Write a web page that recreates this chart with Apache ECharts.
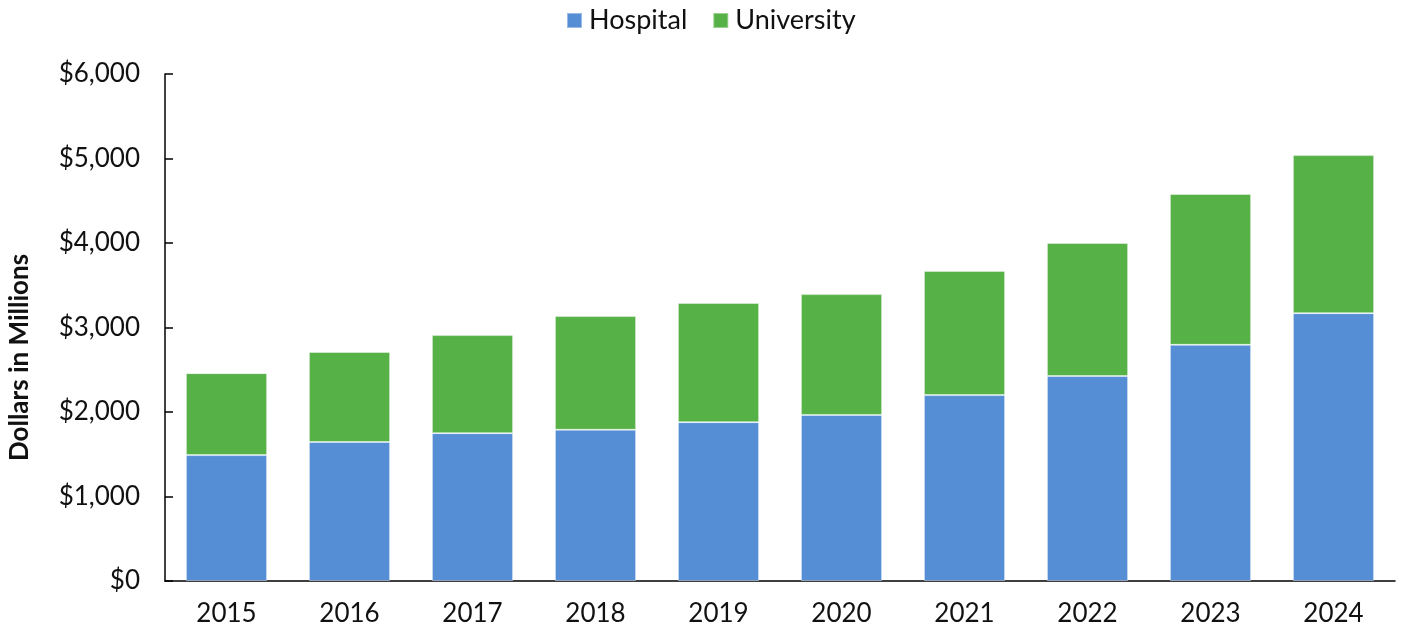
<!DOCTYPE html>
<html>
<head>
<meta charset="utf-8">
<script src="https://cdn.jsdelivr.net/npm/echarts@6/dist/echarts.min.js"></script>
<style>
  html, body { margin: 0; padding: 0; background: #fff; }
  #main { width: 1401px; height: 630px; }
</style>
</head>
<body>
<div id="main"></div>
<script>
var years = ['2015', '2016', '2017', '2018', '2019', '2020', '2021', '2022', '2023', '2024'];
var hospital = [1490, 1645, 1750, 1790, 1880, 1965, 2200, 2425, 2795, 3170];
var university = [970, 1065, 1160, 1345, 1410, 1430, 1470, 1575, 1785, 1870];

var chartDom = document.getElementById('main');
var myChart = echarts.init(chartDom);
var option;

option = {
    textStyle: { fontFamily: 'Lato' },
    legend: {
        data: ['Hospital', 'University'],
        top: 2,
        left: 561,
        itemWidth: 15,
        itemHeight: 15,
        itemGap: 25,
        icon: 'rect',
        textStyle: { fontSize: 27, color: '#111', fontFamily: 'Lato', padding: [0, 0, 0, 2] }
    },
    grid: {
        left: 165,
        right: 6,
        top: 74,
        bottom: 49,
        containLabel: false,
        outerBoundsMode: 'none'
    },
    xAxis: {
        type: 'category',
        data: years,
        axisLine: { lineStyle: { color: '#000', width: 1.5 } },
        axisTick: { show: false },
        axisLabel: { fontSize: 26, color: '#111', margin: 20, fontFamily: 'Lato' }
    },
    yAxis: {
        type: 'value',
        min: 0,
        max: 6000,
        interval: 1000,
        name: 'Dollars in Millions',
        nameLocation: 'middle',
        nameGap: 132,
        nameTextStyle: { fontSize: 26, fontWeight: 'bold', color: '#111', fontFamily: 'Lato', padding: [0, 60, 0, 0] },
        splitLine: { show: false },
        axisLine: { show: true, lineStyle: { color: '#000', width: 1.5 } },
        axisTick: { show: true, inside: true, length: 8, lineStyle: { color: '#000', width: 1.5 } },
        axisLabel: {
            fontSize: 26,
            color: '#111',
            margin: 25,
            fontFamily: 'Lato',
            formatter: function (v) { return '$' + v.toLocaleString('en-US'); }
        }
    },
    series: [
        {
            name: 'Hospital',
            type: 'bar',
            stack: 'total',
            barWidth: '66%',
            itemStyle: { color: '#558ed5', borderColor: 'rgba(255,255,255,0.4)', borderWidth: 1 },
            data: hospital
        },
        {
            name: 'University',
            type: 'bar',
            stack: 'total',
            barWidth: '66%',
            itemStyle: { color: '#56b247', borderColor: 'rgba(255,255,255,0.4)', borderWidth: 1 },
            data: university
        }
    ]
};

option && myChart.setOption(option);
</script>
</body>
</html>
